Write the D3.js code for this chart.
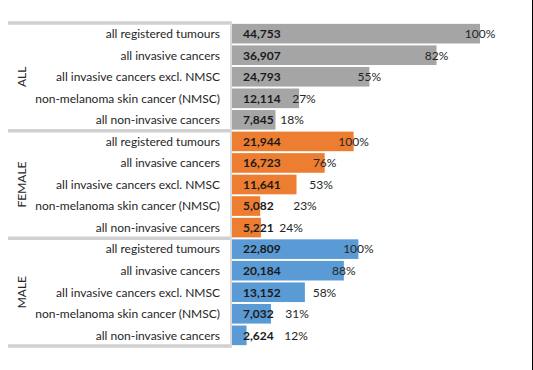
<!DOCTYPE html>
<html>
<head>
<meta charset="utf-8">
<script src="https://cdn.jsdelivr.net/npm/d3@7"></script>
<style>
  html, body { margin: 0; padding: 0; background: #fff; }
  svg { display: block; }
</style>
</head>
<body>
<svg id="chart" width="533" height="370"></svg>
<script>
// ---- data ----
const groups = ["ALL", "FEMALE", "MALE"];
const categories = [
  "all registered tumours",
  "all invasive cancers",
  "all invasive cancers excl. NMSC",
  "non-melanoma skin cancer (NMSC)",
  "all non-invasive cancers"
];
const allValues    = [44753, 36907, 24793, 12114, 7845];
const femaleValues = [21944, 16723, 11641, 5082, 5221];
const maleValues   = [22809, 20184, 13152, 7032, 2624];
const allPct    = [100, 82, 55, 27, 18];
const femalePct = [100, 76, 53, 23, 24];
const malePct   = [100, 88, 58, 31, 12];
// where the percentage labels sit, in value units
const allPctAt    = [44753, 36907, 24793, 12990, 10830];
const femalePctAt = [21944, 16723, 16060, 13170, 10650];
const malePctAt   = [22809, 20184, 16690, 11730, 11550];
const groupColors = ["#A5A5A5", "#ED7D31", "#5B9BD5"];

const valuesByGroup = [allValues, femaleValues, maleValues];
const pctByGroup = [allPct, femalePct, malePct];
const pctAtByGroup = [allPctAt, femalePctAt, malePctAt];

const rows = [];
groups.forEach((g, gi) => {
  categories.forEach((c, ci) => {
    rows.push({
      key: gi * categories.length + ci,
      group: g, gi, category: c,
      value: valuesByGroup[gi][ci],
      pct: pctByGroup[gi][ci],
      pctAt: pctAtByGroup[gi][ci]
    });
  });
});

// ---- layout ----
const svg = d3.select("#chart");
const font = "Lato, 'Open Sans', sans-serif";
const x0 = 232, xMaxPx = 480;
const plotTop = 23, plotBottom = 346;

const x = d3.scaleLinear().domain([0, d3.max(allValues)]).range([x0, xMaxPx]);
const y = d3.scaleBand().domain(rows.map(d => d.key)).range([plotTop, plotBottom])
  .paddingInner(0.09).paddingOuter(0.04);
const gy = d3.scaleBand().domain(groups).range([plotTop, plotBottom]).padding(0);

// bars
svg.append("g").selectAll("rect").data(rows).join("rect")
  .attr("x", x(0))
  .attr("y", d => y(d.key))
  .attr("width", d => x(d.value) - x(0))
  .attr("height", y.bandwidth())
  .attr("fill", d => groupColors[d.gi]);

// axis frame lines (group separators)
const frame = svg.append("g");
const seps = groups.map(g => gy(g)).concat([plotBottom]);
frame.selectAll("line.sep").data(seps).join("line")
  .attr("class", "sep")
  .attr("x1", 8).attr("x2", x0)
  .attr("y1", d => d).attr("y2", d => d)
  .attr("stroke", "#D0D0D0").attr("stroke-width", 3.5);
frame.append("line")
  .attr("x1", x0 - 1).attr("x2", x0 - 1)
  .attr("y1", plotTop - 1.5).attr("y2", plotBottom + 1.5)
  .attr("stroke", "#D9D9D9").attr("stroke-width", 2);

// category labels
svg.append("g").selectAll("text").data(rows).join("text")
  .attr("x", 220)
  .attr("y", d => y(d.key) + y.bandwidth() / 2)
  .attr("dy", "0.36em")
  .attr("text-anchor", "end")
  .attr("font-family", font)
  .attr("font-size", 12)
  .attr("fill", "#262626")
  .text(d => d.category);

// group labels
svg.append("g").selectAll("text").data(groups).join("text")
  .attr("transform", g => `translate(22,${gy(g) + gy.bandwidth() / 2}) rotate(-90)`)
  .attr("dy", "0.36em")
  .attr("text-anchor", "middle")
  .attr("font-family", font)
  .attr("font-size", 12)
  .attr("fill", "#262626")
  .text(g => g);

// value labels
const fmt = d3.format(",");
svg.append("g").selectAll("text").data(rows).join("text")
  .attr("x", x(0) + 11)
  .attr("y", d => y(d.key) + y.bandwidth() / 2)
  .attr("dy", "0.36em")
  .attr("font-family", font)
  .attr("font-size", 12)
  .attr("font-weight", "bold")
  .attr("fill", "#1a1a1a")
  .text(d => fmt(d.value));

// percentage labels
svg.append("g").selectAll("text").data(rows).join("text")
  .attr("x", d => x(d.pctAt))
  .attr("y", d => y(d.key) + y.bandwidth() / 2)
  .attr("dy", "0.36em")
  .attr("text-anchor", "middle")
  .attr("font-family", font)
  .attr("font-size", 12)
  .attr("fill", "#262626")
  .text(d => d.pct + "%");

// right border
svg.append("line")
  .attr("x1", 532.5).attr("x2", 532.5).attr("y1", 0).attr("y2", 370)
  .attr("stroke", "#000").attr("stroke-width", 1);
</script>
</body>
</html>
